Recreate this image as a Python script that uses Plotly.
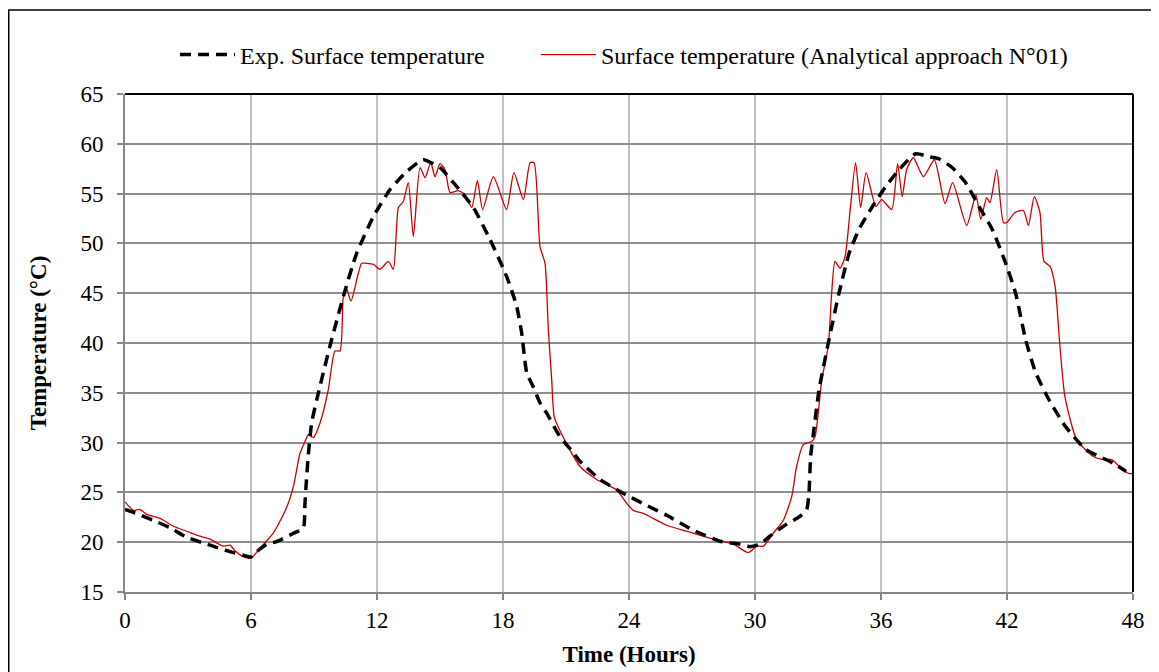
import plotly.graph_objects as go

# ---- data ----
exp_time = [0, 0.4, 1.35, 2.19, 2.94, 4.05, 5.0, 5.79, 6.0, 6.27, 6.75, 7.22, 8.02, 8.49,
            8.57, 8.62, 8.73, 8.89, 9.13, 9.76, 10.4, 11.03, 11.83, 12.62, 13.41, 14.2,
            15.0, 15.8, 16.59, 17.38, 18.17, 18.65, 18.89, 19.13, 19.44, 19.76, 20.08,
            20.71, 21.35, 21.67, 22.62, 23.73, 24.84, 25.8, 27.07, 28.33, 29.3, 29.76,
            30.24, 30.71, 31.35, 32.14, 32.46, 32.57, 32.65, 32.78, 33.05, 33.52, 34.0,
            34.48, 34.95, 35.59, 36.22, 36.86, 37.65, 38.29, 38.76, 39.4, 40.03, 40.67,
            41.3, 41.94, 42.41, 42.89, 43.37, 44.0, 44.79, 45.75, 46.4, 46.7, 47.17, 47.67]
exp_temp = [23.3, 23.0, 22.2, 21.4, 20.5, 19.7, 19.05, 18.6, 18.5, 19.05, 19.8, 20.05, 20.9, 21.4,
            23.9, 25.6, 28.8, 32.0, 34.3, 39.7, 44.7, 49.0, 52.7, 55.4, 57.2, 58.4,
            57.6, 55.7, 53.6, 50.4, 46.7, 43.7, 41.0, 37.0, 35.6, 34.0, 32.96,
            30.6, 29.0, 28.1, 26.3, 24.9, 23.7, 22.7, 21.2, 20.1, 19.8, 19.55,
            19.8, 20.6, 21.6, 22.6, 23.25, 24.9, 28.6, 30.9, 35.3, 40.3, 45.0,
            49.0, 51.4, 53.7, 55.7, 57.4, 59.0, 58.7, 58.5, 57.6, 56.1, 53.7,
            51.4, 48.0, 45.0, 40.3, 37.0, 34.3, 31.6, 29.3, 28.6, 28.3, 27.8, 27.1]

ana_time = [0, 0.4, 0.71, 1.03, 1.67, 2.3, 2.94, 3.57, 4.05, 4.68, 5.0, 5.24, 5.63, 6.0,
            6.43, 7.06, 7.7, 8.02, 8.33, 8.57, 8.73, 8.97, 9.29, 9.68, 10.0, 10.24, 10.4,
            10.56, 10.76, 11.27, 11.5, 11.83, 12.14, 12.54, 12.78, 13.02, 13.25, 13.49,
            13.73, 14.05, 14.29, 14.56, 14.76, 15.0, 15.24, 15.48, 15.87, 16.19, 16.51,
            16.78, 17.03, 17.54, 18.17, 18.52, 18.97, 19.29, 19.48, 19.76, 20.0, 20.16,
            20.32, 20.45, 21.0, 21.67, 22.46, 23.41, 23.89, 24.2, 24.68, 25.8, 26.75,
            28.02, 28.97, 29.68, 30.08, 30.4, 30.87, 31.35, 31.75, 31.98, 32.3, 32.7,
            32.86, 33.18, 33.49, 33.65, 33.81, 34.05, 34.29, 34.52, 34.79, 35.03, 35.29,
            35.76, 36.03, 36.51, 36.79, 37.01, 37.22, 37.54, 38.02, 38.54, 39.05, 39.41,
            40.08, 40.52, 40.75, 41.03, 41.19, 41.51, 41.83, 41.99, 42.38, 42.78, 43.02,
            43.3, 43.57, 43.76, 44.05, 44.29, 44.52, 44.76, 45.32, 46.11, 46.59, 46.98,
            47.46, 47.78, 48.0]
ana_temp = [24.05, 23.2, 23.3, 22.8, 22.4, 21.6, 21.1, 20.6, 20.3, 19.6, 19.7, 19.15, 18.55, 18.4,
            19.4, 20.9, 23.5, 25.6, 28.9, 30.1, 30.8, 30.5, 32.0, 35.3, 39.2, 39.2, 44.7,
            45.4, 44.2, 48.0, 48.0, 47.9, 47.4, 48.2, 47.4, 53.6, 54.2, 56.1,
            50.7, 57.6, 56.6, 58.1, 56.7, 58.0, 57.4, 55.1, 55.3, 54.9, 53.6,
            56.3, 53.4, 56.7, 53.4, 57.1, 54.4, 58.1, 58.1, 49.7, 48.0, 41.3,
            36.3, 32.5, 30.0, 27.6, 26.3, 25.25, 23.9, 23.2, 22.9, 21.7, 21.1,
            20.3, 19.8, 18.95, 19.6, 19.6, 20.9, 22.2, 24.6, 27.6, 29.8, 30.1,
            30.6, 36.3, 39.7, 45.0, 48.2, 47.5, 48.7, 53.1, 58.1, 53.6, 57.1,
            53.7, 54.4, 53.4, 58.0, 54.7, 57.4, 58.6, 56.7, 58.4, 54.0, 56.1,
            51.8, 54.9, 52.4, 54.6, 54.1, 57.4, 52.1, 52.1, 53.1, 53.3, 51.8,
            54.7, 53.1, 48.2, 47.7, 45.7, 39.7, 34.6, 30.3, 28.6, 28.3, 28.3,
            27.4, 26.9, 26.9]

x_ticks = [0, 6, 12, 18, 24, 30, 36, 42, 48]
y_ticks = [15, 20, 25, 30, 35, 40, 45, 50, 55, 60, 65]

FONT = "Liberation Serif, Times New Roman, serif"

# figure-pixel geometry of the plot area
L, T, PW, PH = 117, 86, 1008, 498
W, H = 1159, 672
BOT = T + PH


def px(xp):
    return (xp - L) / PW


def py(yp):
    return (BOT - yp) / PH


fig = go.Figure()
fig.add_trace(go.Scatter(
    x=ana_time, y=ana_temp, mode="lines",
    name="Surface temperature (Analytical approach N°01)",
    line=dict(color="#CC0000", width=1.3, shape="spline", smoothing=0.6),
    legend="legend2",
))
fig.add_trace(go.Scatter(
    x=exp_time, y=exp_temp, mode="lines",
    name="Exp. Surface temperature",
    line=dict(color="black", width=3.5, dash="11px,7px", shape="spline", smoothing=0.5),
    legend="legend",
))

legend_common = dict(orientation="h", yanchor="middle", xanchor="left",
                     font=dict(family=FONT, size=24, color="black"),
                     bgcolor="rgba(0,0,0,0)", itemwidth=55, visible=True)

fig.update_layout(
    width=W, height=H,
    margin=dict(l=L, r=W - L - PW, t=T, b=H - BOT),
    paper_bgcolor="white", plot_bgcolor="white",
    showlegend=True,
    font=dict(family=FONT, size=23, color="black"),
    legend=dict(x=px(167), y=py(47), **legend_common),
    legend2=dict(x=px(528), y=py(47), **legend_common),
    xaxis=dict(
        range=[0, 48], tickvals=x_ticks, ticktext=[str(v) for v in x_ticks],
        showgrid=True, gridcolor="#c0c0c0", gridwidth=1.5,
        showline=True, linecolor="#868686", linewidth=2,
        ticks="outside", ticklen=6, tickcolor="#868686", tickwidth=1.5,
        tickfont=dict(family=FONT, size=23, color="black"),
        title=dict(text="<b>Time (Hours)</b>", font=dict(family=FONT, size=23), standoff=14),
        zeroline=False,
    ),
    yaxis=dict(
        range=[15, 65], tickvals=y_ticks, ticktext=[str(v) for v in y_ticks],
        showgrid=True, gridcolor="#8f8f8f", gridwidth=1.5,
        showline=True, linecolor="#868686", linewidth=2,
        ticks="outside", ticklen=6, tickcolor="#868686", tickwidth=1.5,
        ticklabelstandoff=9,
        tickfont=dict(family=FONT, size=23, color="black"),
        title=dict(text="<b>Temperature (°C)</b>", font=dict(family=FONT, size=23), standoff=27),
        zeroline=False,
    ),
)

# plot-area border (top and right black)
fig.add_shape(type="line", xref="paper", yref="paper", x0=0, x1=1, y0=1, y1=1,
              line=dict(color="black", width=2))
fig.add_shape(type="line", xref="paper", yref="paper", x0=1, x1=1, y0=0, y1=1,
              line=dict(color="black", width=2))
# outer chart frame
fig.add_shape(type="rect", xref="paper", yref="paper",
              x0=px(0.75), x1=px(1150), y0=py(H + 20), y1=py(2),
              line=dict(color="black", width=1.5), fillcolor="rgba(0,0,0,0)")

fig.write_html("out.html")
